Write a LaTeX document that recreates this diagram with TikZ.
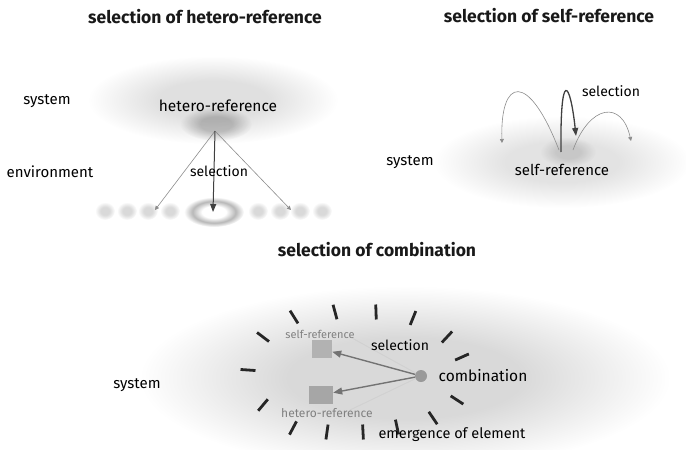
\documentclass[tikz,border=0pt]{standalone}
\usepackage{fontspec}
\setmainfont{Fira Sans}
\usetikzlibrary{arrows.meta,calc,fadings}

% soft grey clouds: flat centre, fading out at the rim
\pgfdeclareradialshading{plateaushade}{\pgfpoint{0bp}{0bp}}{color(0bp)=(white); color(11bp)=(white); color(25bp)=(black); color(50bp)=(black)}
\pgfdeclarefading{plateau}{\pgfuseshading{plateaushade}}
\pgfdeclareradialshading{haloring}{\pgfpoint{0bp}{0bp}}{color(0bp)=(white); color(10bp)=(white); color(18bp)=(black!28); color(25bp)=(white); color(50bp)=(white)}

\begin{document}
\begin{tikzpicture}[x=1pt,y=-1pt,
  title/.style={font=\fontsize{17.5}{20}\selectfont\bfseries, text=black!90},
  lab/.style={font=\fontsize{14}{16}\selectfont, text=black},
  smalllab/.style={font=\fontsize{11}{13}\selectfont, text=black!50},
  cloud/.style={fill=black, path fading=plateau},
  thinarr/.style={draw=black!45, line width=0.6pt, -{Triangle[length=4pt,width=4pt]}},
  darkarr/.style={draw=black!75, line width=1.3pt, -{Triangle[length=8pt,width=6pt]}},
  grayarr/.style={draw=black!55, line width=1.4pt, -{Triangle[length=9pt,width=7pt]}},
  faint/.style={draw=black!18, line width=1pt},
  tickmark/.style={draw=black!85, line width=2.8pt},
  sqbox/.style={fill=black!30, minimum width=20pt, minimum height=18pt, inner sep=0pt}
]
\useasboundingbox (0,0) rectangle (686,450);

% ---------- selection of hetero-reference ----------
\fill[cloud, fill opacity=0.12] (213,100) ellipse [x radius=125, y radius=44];
\fill[cloud, fill opacity=0.22] (216,124) ellipse [x radius=36, y radius=17];
\foreach \px in {105,127,148,170,258,280,300,322}
  \fill[cloud, fill opacity=0.15] (\px,211) ellipse [x radius=10, y radius=9];
\shade[shading=haloring] (214,212) ellipse [x radius=30, y radius=15];

\node[title] (t1) at (205,17) {selection of hetero-reference};
\node[lab, font=\fontsize{15}{17}\selectfont] (sys1) at (47,101) {system};
\node[lab, font=\fontsize{15}{17}\selectfont] (env1) at (50,172) {environment};
\node[lab, font=\fontsize{15.5}{17}\selectfont] (href) at (218,106) {hetero-reference};

\coordinate (hsrc) at (215,131);
\coordinate (hL) at (155,210);
\coordinate (hM) at (213,212);
\coordinate (hR) at (291,210);
\draw[thinarr] (hsrc) -- (hL);
\draw[thinarr] (hsrc) -- (hR);
\draw[darkarr, line width=1pt] (hsrc) -- (hM);
\node[lab] (sel1) at (219,171) {selection};

% ---------- selection of self-reference ----------
\fill[cloud, fill opacity=0.11] (562,162) ellipse [x radius=128, y radius=46];
\fill[cloud, fill opacity=0.12] (568,152) ellipse [x radius=28, y radius=15];

\node[title] (t2) at (549,16) {selection of self-reference};
\node[lab, font=\fontsize{15}{17}\selectfont] (sys2) at (410,162) {system};
\node[lab, font=\fontsize{15}{17}\selectfont] (sref) at (562,170) {self-reference};
\node[lab] (sel2) at (611,91) {selection};

\coordinate (sA) at (559,150);
\coordinate (sB) at (573,150);
\coordinate (sC) at (561,152);
\coordinate (sL) at (502,143);
\coordinate (sR) at (631,141);
\coordinate (sT) at (576,136);
\draw[thinarr] (sA) .. controls (528,70) and (500,78) .. (sL);
\draw[thinarr] (sB) .. controls (590,104) and (622,100) .. (sR);
\draw[darkarr] (sC) .. controls (560,68) and (570,80) .. (sT);

% ---------- selection of combination ----------
\fill[cloud, fill opacity=0.15] (405,378) ellipse [x radius=265, y radius=92];

\node[title] (t3) at (377,250) {selection of combination};
\node[lab, font=\fontsize{15}{17}\selectfont] (sys3) at (137,385) {system};

% elements emerging around the combination
\foreach \px/\py/\ang in {263/337/37, 294/317/58, 335/312/75, 376/312/88,
    413/318/112, 447/337/133, 462/357/156, 457/400/33, 433/418/56,
    397/427/78, 363/432/87, 327/432/98, 293/428/118, 263/405/130, 248/370/4}
  \draw[tickmark] ($(\px,\py)+(\ang:7.5)$) -- ($(\px,\py)+(\ang+180:7.5)$);

\node[sqbox] (sqS) at (322,349) {};
\node[sqbox, fill=black!35, minimum width=24pt] (sqH) at (321,395) {};
\node[circle, fill=black!40, minimum size=12pt, inner sep=0pt] (comb) at (421,376) {};

\coordinate (fS) at (352,338);
\coordinate (fH) at (350,410);
\draw[faint] (comb) -- (fS);
\draw[faint] (comb) -- (fH);
\draw[grayarr] (comb) -- (sqS);
\draw[grayarr] (comb) -- (sqH);

\node[smalllab] (lsS) at (320,334) {self-reference};
\node[smalllab, font=\fontsize{12}{14}\selectfont] (lsH) at (327,413) {hetero-reference};
\node[lab] (sel3) at (400,345) {selection};
\node[lab, font=\fontsize{15.5}{17}\selectfont] (lcomb) at (483,376) {combination};
\node[lab, font=\fontsize{14.5}{16}\selectfont] (emer) at (452,435) {emergence of element};

\end{tikzpicture}
\end{document}
